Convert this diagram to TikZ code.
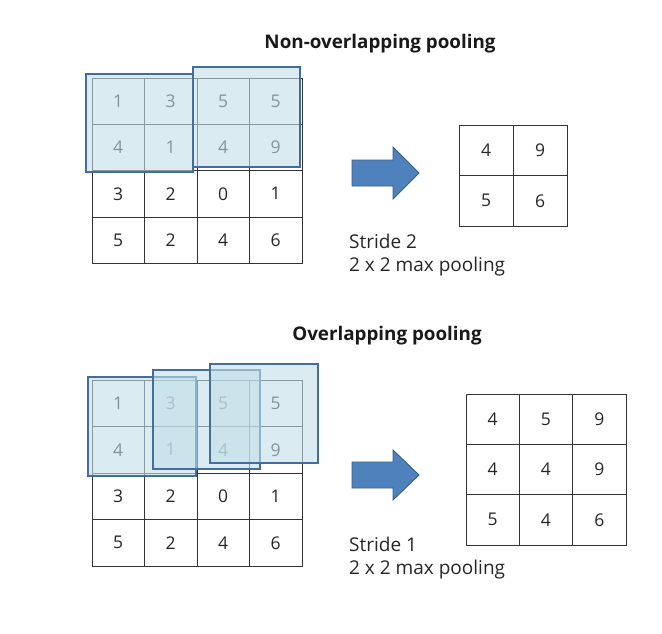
\documentclass[tikz,border=0pt]{standalone}
\usepackage{fontspec}
\setmainfont{Open Sans}
\definecolor{poolfill}{RGB}{193,223,232}
\definecolor{pooldraw}{RGB}{70,108,158}
\definecolor{arrfill}{RGB}{79,129,189}
\definecolor{arrdraw}{RGB}{56,93,138}
\tikzset{
  cell/.style={draw=black!80, line width=0.8pt, minimum width=52.5pt, minimum height=46.3pt, inner sep=0pt, font=\fontsize{17.5}{20}\selectfont, text=black!85},
  pool/.style={draw=pooldraw, line width=1.6pt, fill=poolfill, fill opacity=0.6},
  bigarrow/.style={draw=arrdraw, line width=0.9pt, fill=arrfill},
  label/.style={anchor=base west, inner sep=0pt, font=\fontsize{19}{22}\selectfont, text=black!85},
  title/.style={inner sep=0pt, font=\fontsize{18.8}{22}\selectfont\bfseries, text=black!90}
}
\begin{document}
\begin{tikzpicture}[x=1pt,y=-1pt]
\useasboundingbox (0,0) rectangle (662,634);
% ---------- top ----------
\node[title] (t1) at (380,44) {Non-overlapping pooling};
\foreach \r/\row in {0/{1,3,5,5},1/{4,1,4,9},2/{3,2,0,1},3/{5,2,4,6}} {
  \foreach \v [count=\c from 0] in \row {
    \node[cell, minimum height=46.3pt] (a-\r-\c) at ({92+52.5*(\c+0.5)},{78+46.3*(\r+0.5)}) {\v};
  }
}
\path[pool] (86,74) rectangle (193,172);
\path[pool] (193,67) rectangle (300,167);
\draw[bigarrow] (352,160) -- (393,160) -- (393,147) -- (419,173) -- (393,199) -- (393,186) -- (352,186) -- cycle;
\foreach \r/\row in {0/{4,9},1/{5,6}} {
  \foreach \v [count=\c from 0] in \row {
    \node[cell, minimum width=54pt, minimum height=50.5pt] (b-\r-\c) at ({459+54*(\c+0.5)},{125+50.5*(\r+0.5)}) {\v};
  }
}
\node[label] (s1) at (349,248) {Stride 2};
\node[label] (m1) at (349,271) {2 x 2 max pooling};
% ---------- bottom ----------
\node[title] (t2) at (387,336) {Overlapping pooling};
\foreach \r/\row in {0/{1,3,5,5},1/{4,1,4,9},2/{3,2,0,1},3/{5,2,4,6}} {
  \foreach \v [count=\c from 0] in \row {
    \node[cell, minimum height=46.5pt] (c-\r-\c) at ({92+52.5*(\c+0.5)},{380+46.5*(\r+0.5)}) {\v};
  }
}
\path[pool] (88,377) rectangle (196,476);
\path[pool] (153,370) rectangle (260,469);
\path[pool] (210,364) rectangle (318,463);
\draw[bigarrow] (352,462) -- (393,462) -- (393,450) -- (419,475) -- (393,500) -- (393,488) -- (352,488) -- cycle;
\foreach \r/\row in {0/{4,5,9},1/{4,4,9},2/{5,4,6}} {
  \foreach \v [count=\c from 0] in \row {
    \node[cell, minimum width=53.3pt, minimum height=50.3pt] (d-\r-\c) at ({466+53.3*(\c+0.5)},{394+50.3*(\r+0.5)}) {\v};
  }
}
\node[label] (s2) at (349,551) {Stride 1};
\node[label] (m2) at (349,574) {2 x 2 max pooling};
\end{tikzpicture}
\end{document}
